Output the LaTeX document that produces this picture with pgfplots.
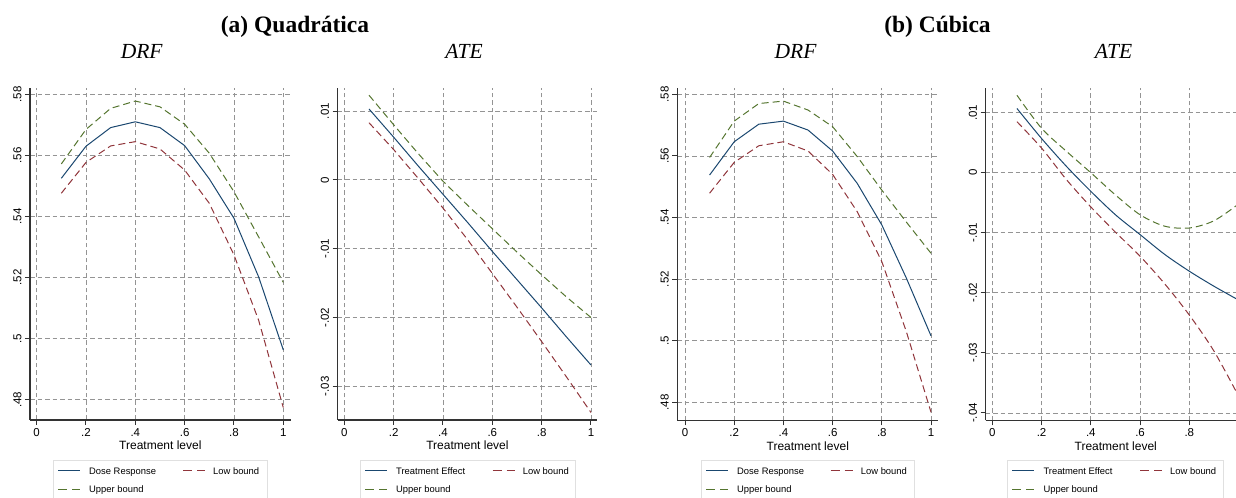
\documentclass[border=0pt]{standalone}
\usepackage{fontspec}
\setmainfont{Liberation Sans}
\newfontfamily\timesfont{Liberation Serif}
\usepackage{pgfplots}
\usepackage{pgfplotstable}
\pgfplotsset{compat=1.18}

\definecolor{stnavy}{RGB}{26,71,111}
\definecolor{stmaroon}{RGB}{144,53,59}
\definecolor{stgreen}{RGB}{85,117,47}

% x = treatment level; fit = DRF/ATE; lo, hi = bounds
\pgfplotstableread{
x    fit     lo      hi
0.1  0.5525  0.5476  0.5572
0.2  0.5630  0.5577  0.5685
0.3  0.5691  0.5631  0.5754
0.4  0.5710  0.5645  0.5778
0.5  0.5691  0.5621  0.5759
0.6  0.5632  0.5552  0.5702
0.7  0.5523  0.5443  0.5607
0.8  0.5394  0.5274  0.5481
0.9  0.5202  0.5060  0.5333
1.0  0.4963  0.4774  0.5184
}\drfquad

\pgfplotstableread{
x    fit      lo       hi
0.1  0.0103   0.0083   0.0123
0.2  0.0062   0.0044   0.0080
0.3  0.0020   0.0002   0.0038
0.4  -0.0021  -0.0041  -0.0002
0.5  -0.0062  -0.0087  -0.0037
0.6  -0.0104  -0.0136  -0.0071
0.7  -0.0145  -0.0185  -0.0105
0.8  -0.0186  -0.0235  -0.0138
0.9  -0.0228  -0.0286  -0.0170
1.0  -0.0269  -0.0338  -0.0200
}\atequad

\pgfplotstableread{
x    fit     lo      hi
0.1  0.5538  0.5479  0.5595
0.2  0.5646  0.5579  0.5713
0.3  0.5703  0.5633  0.5770
0.4  0.5713  0.5646  0.5778
0.5  0.5684  0.5616  0.5749
0.6  0.5616  0.5540  0.5695
0.7  0.5511  0.5419  0.5598
0.8  0.5376  0.5257  0.5489
0.9  0.5203  0.5029  0.5385
1.0  0.5016  0.4768  0.5284
}\drfcub

\pgfplotstableread{
x    fit      lo       hi
0.1  0.0107   0.0085   0.0129
0.2  0.0057   0.0041   0.0074
0.3  0.0011   -0.0011  0.0036
0.4  -0.0031  -0.0057  0.0000
0.5  -0.0070  -0.0099  -0.0037
0.6  -0.0103  -0.0139  -0.0070
0.7  -0.0136  -0.0185  -0.0089
0.8  -0.0164  -0.0237  -0.0092
0.9  -0.0189  -0.0297  -0.0080
1.0  -0.0212  -0.0372  -0.0052
}\atecub

\tikzset{
  stfit/.style={draw=stnavy, line width=1bp, solid},
  stlo/.style={draw=stmaroon, line width=1bp, dash pattern=on 7bp off 4bp},
  sthi/.style={draw=stgreen, line width=1bp, dash pattern=on 7bp off 4bp},
}

\pgfplotsset{
  statapanel/.style={
    scale only axis,
    anchor=south west,
    axis x line*=bottom, axis y line*=left,
    axis line style={line width=1.1bp, draw=black!80},
    tick align=outside,
    major tick length=5bp,
    tick style={line width=1bp, draw=black!80},
    scaled y ticks=false,
    grid=major,
    major grid style={line width=0.8bp, draw=black!42, dash pattern=on 4.5bp off 3bp},
    xtick={0,0.2,0.4,0.6,0.8,1},
    xticklabels={0,.2,.4,.6,.8,1},
    ticklabel style={font=\fontsize{11.5bp}{12bp}\selectfont},
    yticklabel style={rotate=90, anchor=south},
    xlabel={Treatment level},
    xlabel style={font=\fontsize{12bp}{14bp}\selectfont, anchor=base,
      at={(axis description cs:0.5,0)}, yshift=-30bp},
  },
}

% legend box under a panel: left edge, width, first label, offset of second column
\newcommand{\legfont}{\fontsize{9.4bp}{11bp}\selectfont}
\newcommand{\stlegend}[4]{%
  \draw[draw=black!12, line width=0.8bp] (#1bp,38bp) rectangle ({#1bp+#2bp},-6bp);
  \draw[stfit] ({#1bp+5bp},27bp) -- ({#1bp+27bp},27bp);
  \node[anchor=base west, inner sep=0pt, font=\legfont] at ({#1bp+36bp},23.6bp) {#3};
  \draw[stlo, dash pattern=on 9bp off 5bp] ({#1bp+#4bp},27bp) -- ({#1bp+#4bp+22bp},27bp);
  \node[anchor=base west, inner sep=0pt, font=\legfont] at ({#1bp+#4bp+30bp},23.6bp) {Low bound};
  \draw[sthi, dash pattern=on 9bp off 5bp] ({#1bp+5bp},8.7bp) -- ({#1bp+27bp},8.7bp);
  \node[anchor=base west, inner sep=0pt, font=\legfont] at ({#1bp+36bp},5.3bp) {Upper bound};
}

\begin{document}
\begin{tikzpicture}
\path[use as bounding box] (0,0) rectangle (1236bp,498bp);

\node[anchor=base, font=\timesfont\bfseries\fontsize{23.5bp}{26bp}\selectfont] at (295bp,465.5bp) {(a) Quadrática};
\node[anchor=base, font=\timesfont\bfseries\fontsize{23.5bp}{26bp}\selectfont] at (937.5bp,465.5bp) {(b) Cúbica};
\node[anchor=base, font=\timesfont\itshape\fontsize{21.5bp}{24bp}\selectfont] at (141.7bp,439bp) {DRF};
\node[anchor=base, font=\timesfont\itshape\fontsize{21.5bp}{24bp}\selectfont] at (464bp,439bp) {ATE};
\node[anchor=base, font=\timesfont\itshape\fontsize{21.5bp}{24bp}\selectfont] at (795.5bp,439bp) {DRF};
\node[anchor=base, font=\timesfont\itshape\fontsize{21.5bp}{24bp}\selectfont] at (1113.5bp,439bp) {ATE};

% (a) DRF
\begin{axis}[statapanel, at={(30bp,78bp)}, width=260.7bp, height=332.3bp,
  xmin=-0.027, xmax=1.03, ymin=0.47334, ymax=0.58217,
  ytick={0.48,0.50,0.52,0.54,0.56,0.58}, yticklabels={.48,.5,.52,.54,.56,.58}]
\addplot[stfit] table[x=x,y=fit] {\drfquad};
\addplot[stlo] table[x=x,y=lo] {\drfquad};
\addplot[sthi] table[x=x,y=hi] {\drfquad};
\end{axis}
\stlegend{53}{214}{Dose Response}{130}

% (a) ATE
\begin{axis}[statapanel, at={(337.5bp,78bp)}, width=259.8bp, height=332.3bp,
  xmin=-0.0277, xmax=1.0256, ymin=-0.03489, ymax=0.01339,
  ytick={-0.03,-0.02,-0.01,0,0.01}, yticklabels={-.03,-.02,-.01,0,.01}]
\addplot[stfit] table[x=x,y=fit] {\atequad};
\addplot[stlo] table[x=x,y=lo] {\atequad};
\addplot[sthi] table[x=x,y=hi] {\atequad};
\end{axis}
\stlegend{360}{215}{Treatment Effect}{132.7}

% (b) DRF
\begin{axis}[statapanel, at={(677.3bp,77.7bp)}, width=261bp, height=332.6bp,
  xmin=-0.0313, xmax=1.0297, ymin=0.47417, ymax=0.58215,
  ytick={0.48,0.50,0.52,0.54,0.56,0.58}, yticklabels={.48,.5,.52,.54,.56,.58}]
\addplot[stfit] table[x=x,y=fit] {\drfcub};
\addplot[stlo] table[x=x,y=lo] {\drfcub};
\addplot[sthi] table[x=x,y=hi] {\drfcub};
\end{axis}
\stlegend{701}{213.3}{Dose Response}{129.7}

% (b) ATE
\begin{axis}[statapanel, at={(985.5bp,77.7bp)}, width=250.5bp, height=332.6bp,
  xmin=-0.0277, xmax=0.9895, ymin=-0.04122, ymax=0.01416,
  ytick={-0.04,-0.03,-0.02,-0.01,0,0.01}, yticklabels={-.04,-.03,-.02,-.01,0,.01},
  xlabel style={xshift=5bp}]
\addplot[stfit, smooth] table[x=x,y=fit] {\atecub};
\addplot[stlo, smooth] table[x=x,y=lo] {\atecub};
\addplot[sthi, smooth] table[x=x,y=hi] {\atecub};
\end{axis}
\stlegend{1007.3}{216}{Treatment Effect}{132.7}
\end{tikzpicture}
\end{document}
